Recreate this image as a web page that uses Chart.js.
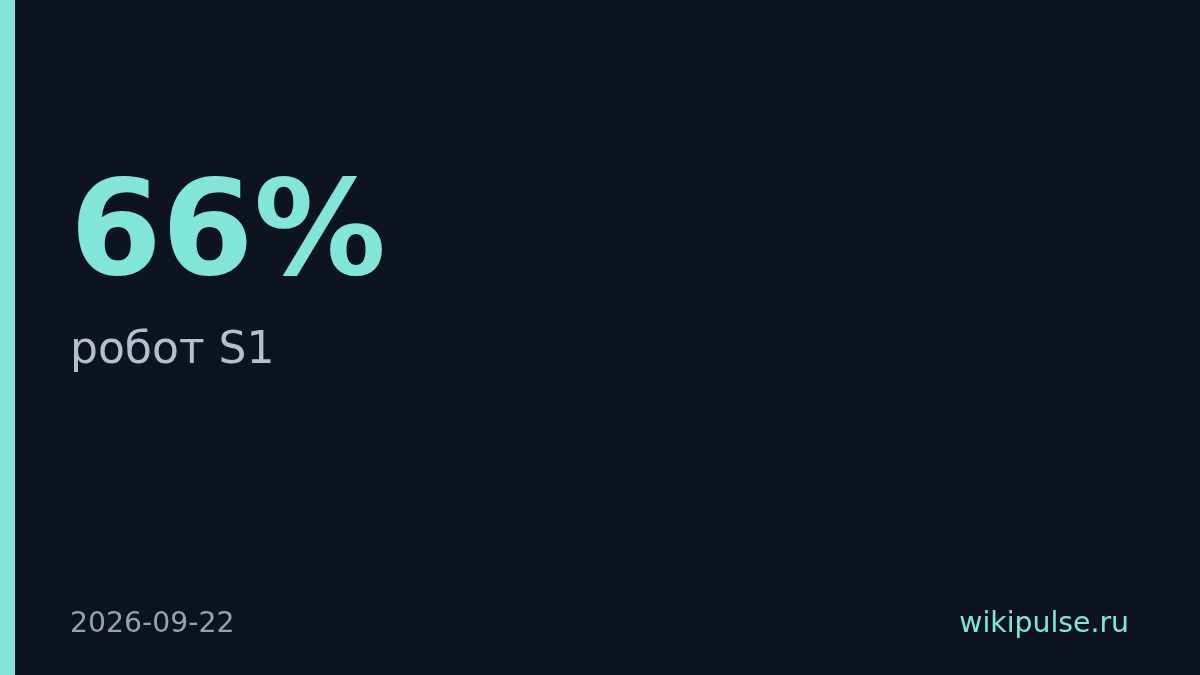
<!DOCTYPE html>
<html>
<head>
<meta charset="utf-8">
<script src="https://cdn.jsdelivr.net/npm/chart.js@4"></script>
<style>
html,body{margin:0;padding:0;background:#0d1420;}
#wrap{width:1200px;height:675px;position:relative;}
</style>
</head>
<body>
<div id="wrap"><canvas id="c" width="1200" height="675"></canvas></div>
<script>
const statValues = [66];
const statLabels = ["робот S1"];
const footerTexts = ["2026-09-22", "wikipulse.ru"];

const cardPlugin = {
  id: 'card',
  beforeDraw(chart) {
    const ctx = chart.ctx;
    ctx.save();
    ctx.fillStyle = '#0d1420';
    ctx.fillRect(0, 0, chart.width, chart.height);
    ctx.fillStyle = '#81e6d9';
    ctx.fillRect(0, 0, 15, chart.height);
    ctx.restore();
  },
  afterDraw(chart) {
    const ctx = chart.ctx;
    ctx.save();
    ctx.textBaseline = 'alphabetic';
    ctx.textAlign = 'left';
    ctx.fillStyle = '#81e6d9';
    ctx.font = 'bold 132px "DejaVu Sans"';
    ctx.fillText(statValues[0] + '%', 70, 274);
    ctx.fillStyle = '#b8bccf';
    ctx.font = '44px "DejaVu Sans"';
    ctx.fillText(statLabels[0], 70, 363);
    ctx.fillStyle = '#9aa0b4';
    ctx.font = '28.3px "DejaVu Sans"';
    ctx.fillText(footerTexts[0], 70, 632);
    ctx.textAlign = 'right';
    ctx.fillStyle = '#81e6d9';
    ctx.fillText(footerTexts[1], 1129, 632);
    ctx.restore();
  }
};

new Chart(document.getElementById('c'), {
  type: 'bar',
  data: { labels: statLabels, datasets: [{ data: statValues, backgroundColor: 'rgba(0,0,0,0)', borderWidth: 0 }] },
  options: {
    responsive: false,
    animation: false,
    devicePixelRatio: 1,
    plugins: { legend: { display: false }, tooltip: { enabled: false } },
    scales: { x: { display: false }, y: { display: false, min: 0, max: 100 } }
  },
  plugins: [cardPlugin]
});
</script>
</body>
</html>
